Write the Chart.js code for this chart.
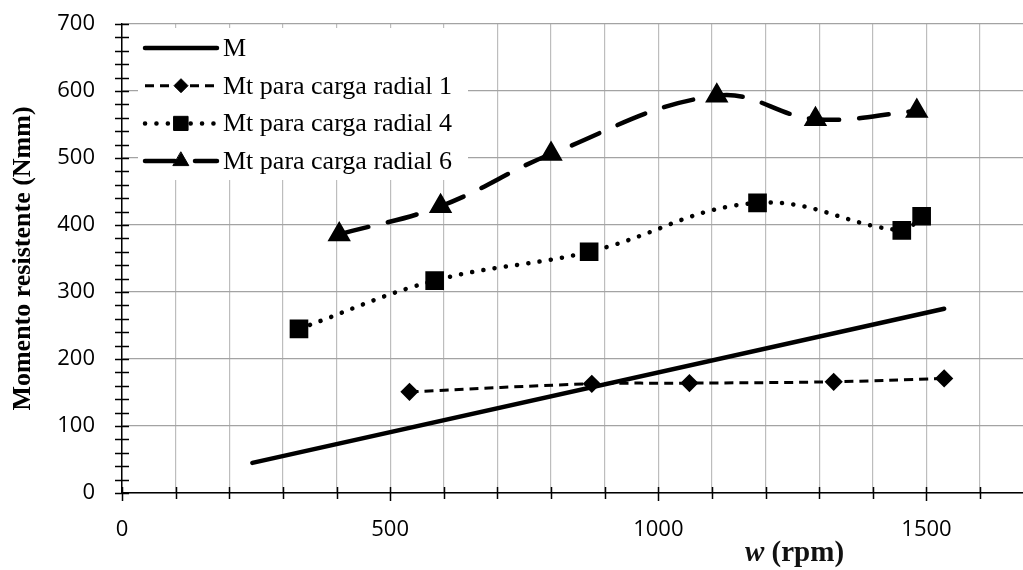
<!DOCTYPE html>
<html>
<head>
<meta charset="utf-8">
<title>Momento resistente</title>
<script src="https://cdn.jsdelivr.net/npm/chart.js@4.4.1/dist/chart.umd.min.js"></script>
<style>
    html, body { margin: 0; padding: 0; background: #fff; }
</style>
</head>
<body>
<canvas id="momentChart" width="1023" height="570"></canvas>
<script>
// velocidad (rpm) y momento (Nmm) de cada serie
const rpmM = [243, 1533];
const momentoM = [45, 275];

const rpmCarga1 = [536, 876, 1058, 1327, 1533];
const momentoCarga1 = [151, 163, 164, 166, 171];

const rpmCarga4 = [330, 583, 871, 1185, 1454, 1491];
const momentoCarga4 = [245, 317, 360, 433, 392, 413];

const rpmCarga6 = [405, 594, 800, 1109, 1293, 1482];
const momentoCarga6 = [386, 428, 506, 593, 558, 570];

const seriesNames = ['M', 'Mt para carga radial 1', 'Mt para carga radial 4', 'Mt para carga radial 6'];
const xTitleParts = ['w', ' (rpm)'];
const yTitle = 'Momento resistente (Nmm)';

const toPoints = (xs, ys) => xs.map((x, i) => ({x: x, y: ys[i]}));

const serif = "'Liberation Serif', 'Times New Roman', serif";

// leyenda dentro del area del grafico, con linea y marcador
const legendBox = {
    id: 'legendBox',
    beforeDatasetsDraw(chart) {
        const ctx = chart.ctx;
        const area = chart.chartArea;
        const left = area.left;
        const top = area.top;
        ctx.save();
        ctx.fillStyle = '#fff';
        ctx.fillRect(left + 16, top + 4, 330, 152);

        chart.data.datasets.forEach((ds, i) => {
            const y = top + 24 + i * 37.7;
            ctx.beginPath();
            ctx.setLineDash(ds.borderDash || []);
            ctx.lineCap = ds.borderCapStyle || 'butt';
            ctx.lineWidth = ds.borderWidth;
            ctx.strokeStyle = ds.borderColor;
            ctx.moveTo(left + 23, y);
            ctx.lineTo(left + 95, y);
            ctx.stroke();
            ctx.setLineDash([]);
            if (ds.pointRadius > 0) {
                ctx.fillStyle = '#000';
                ctx.strokeStyle = '#000';
                ctx.lineWidth = 1;
                Chart.helpers.drawPoint(ctx, {
                    pointStyle: ds.pointStyle,
                    radius: ds.pointRadius,
                    borderWidth: 1,
                    rotation: 0
                }, left + 59, y);
            }
            ctx.fillStyle = '#000';
            ctx.font = '26px ' + serif;
            ctx.textBaseline = 'middle';
            ctx.textAlign = 'left';
            ctx.fillText(ds.label, left + 101, y + 1);
        });
        ctx.restore();
    }
};

// marcas de division que cruzan los ejes y titulo del eje x
const axisMarks = {
    id: 'axisMarks',
    afterDraw(chart) {
        const ctx = chart.ctx;
        const xScale = chart.scales.x;
        const yScale = chart.scales.y;
        const bottom = chart.chartArea.bottom;
        const left = chart.chartArea.left;
        ctx.save();
        ctx.strokeStyle = '#000';
        ctx.lineWidth = 1.5;
        ctx.beginPath();
        for (let v = 0; v <= 1600; v += 100) {
            const px = Math.round(xScale.getPixelForValue(v)) + 0.5;
            ctx.moveTo(px, bottom - 6);
            ctx.lineTo(px, bottom + (v % 500 === 0 ? 8 : 6));
        }
        for (let v = 0; v <= 700; v += 20) {
            const py = Math.round(yScale.getPixelForValue(v)) + 0.5;
            ctx.moveTo(left - 7, py);
            ctx.lineTo(left + 7, py);
        }
        ctx.stroke();

        ctx.fillStyle = '#111';
        ctx.textBaseline = 'alphabetic';
        ctx.textAlign = 'left';
        let tx = 745;
        ctx.font = 'italic bold 29px ' + serif;
        ctx.fillText(xTitleParts[0], tx, 561);
        tx += ctx.measureText(xTitleParts[0]).width;
        ctx.font = 'bold 29px ' + serif;
        ctx.fillText(xTitleParts[1], tx, 561);
        ctx.restore();
    }
};

const config = {
    type: 'line',
    data: {
        datasets: [
            {
                label: seriesNames[0],
                data: toPoints(rpmM, momentoM),
                borderColor: '#000',
                borderWidth: 4.5,
                borderCapStyle: 'round',
                pointRadius: 0,
                tension: 0
            },
            {
                label: seriesNames[1],
                data: toPoints(rpmCarga1, momentoCarga1),
                borderColor: '#000',
                borderWidth: 3,
                borderDash: [9, 6],
                pointStyle: 'rectRot',
                pointRadius: 7,
                pointBackgroundColor: '#000',
                pointBorderColor: '#000',
                tension: 0.4
            },
            {
                label: seriesNames[2],
                data: toPoints(rpmCarga4, momentoCarga4),
                borderColor: '#000',
                borderWidth: 4.5,
                borderDash: [0.1, 11.3],
                borderCapStyle: 'round',
                pointStyle: 'rect',
                pointRadius: 10,
                pointBackgroundColor: '#000',
                pointBorderColor: '#000',
                tension: 0.4
            },
            {
                label: seriesNames[3],
                data: toPoints(rpmCarga6, momentoCarga6),
                borderColor: '#000',
                borderWidth: 4.5,
                borderDash: [30, 20],
                borderCapStyle: 'round',
                pointStyle: 'triangle',
                pointRadius: 9,
                pointBackgroundColor: '#000',
                pointBorderColor: '#000',
                tension: 0.4
            }
        ]
    },
    options: {
        responsive: false,
        animation: false,
        layout: {
            autoPadding: false,
            padding: {top: 24, right: 0, bottom: 0, left: 0}
        },
        plugins: {
            legend: {display: false},
            tooltip: {enabled: false}
        },
        scales: {
            x: {
                type: 'linear',
                min: 0,
                max: 1680,
                afterFit: scale => {
                    scale.height = 77;
                    scale.paddingRight = 0;
                    scale.paddingLeft = 0;
                },
                border: {color: '#000', width: 1.5},
                grid: {
                    color: '#bdbdbd',
                    lineWidth: 1.2,
                    drawTicks: false
                },
                ticks: {
                    stepSize: 100,
                    includeBounds: false,
                    autoSkip: false,
                    maxRotation: 0,
                    padding: 24,
                    color: '#000',
                    font: {family: "'Open Sans', sans-serif", size: 22},
                    callback: value => (value % 500 === 0 ? value : '')
                }
            },
            y: {
                min: 0,
                max: 700,
                afterFit: scale => {
                    scale.width = 122;
                    scale.paddingTop = 0;
                    scale.paddingBottom = 0;
                },
                border: {color: '#000', width: 1.5},
                grid: {
                    color: '#a3a3a3',
                    lineWidth: 1.2,
                    drawTicks: false
                },
                ticks: {
                    stepSize: 100,
                    padding: 27,
                    color: '#000',
                    font: {family: "'Open Sans', sans-serif", size: 22}
                },
                title: {
                    display: true,
                    text: yTitle,
                    color: '#000',
                    padding: {top: 8, bottom: 0},
                    font: {family: serif, size: 26, weight: 'bold'}
                }
            }
        }
    },
    plugins: [legendBox, axisMarks]
};

new Chart(document.getElementById('momentChart'), config);
</script>
</body>
</html>
